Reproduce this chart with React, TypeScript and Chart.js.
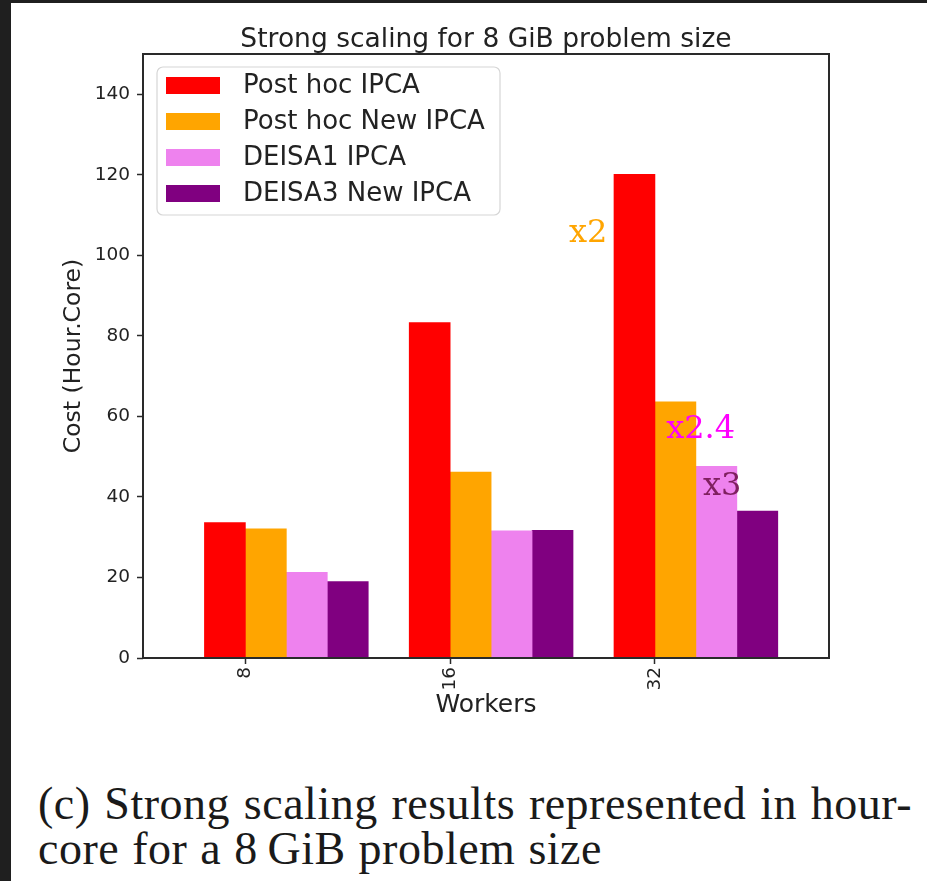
import React, { useEffect, useRef } from "react";
import { Chart, registerables } from "chart.js";

Chart.register(...registerables);

// ---- data ----
const workers = ["8", "16", "32"];
const seriesLabels = ["Post hoc IPCA", "Post hoc New IPCA", "DEISA1 IPCA", "DEISA3 New IPCA"];
const postHocIPCA = [33.6, 83.3, 120.1];
const postHocNewIPCA = [32.1, 46.2, 63.6];
const deisa1IPCA = [21.3, 31.6, 47.6];
const deisa3NewIPCA = [19.0, 31.7, 36.5];
const seriesValues = [postHocIPCA, postHocNewIPCA, deisa1IPCA, deisa3NewIPCA];
const seriesColors = ["#ff0000", "#ffa500", "#ee82ee", "#800080"];
const yTicks = [0, 20, 40, 60, 80, 100, 120, 140];
const speedupLabels = ["x2", "x2.4", "x3"];
const speedupColors = ["#ffa500", "#ff00ff", "#7f1f5f"];
const speedupX = [1.58, 2.055, 2.235];
const speedupY = [103.2, 54.7, 40.5];

const chartTitle = "Strong scaling for 8 GiB problem size";
const captionLine1 = "(c) Strong scaling results represented in hour-";
const captionLine2 = "core for a 8\u2009GiB problem size";

const SANS = "'DejaVu Sans', sans-serif";
const INK = "#222222";

const decorPlugin = {
  id: "decor",
  afterDatasetsDraw(chart: any) {
    const { ctx, scales } = chart;
    ctx.save();
    ctx.font = "32px 'DejaVu Serif', serif";
    ctx.textAlign = "left";
    ctx.textBaseline = "alphabetic";
    speedupLabels.forEach((t, i) => {
      ctx.fillStyle = speedupColors[i];
      ctx.fillText(t, scales.x.getPixelForValue(speedupX[i]), scales.y.getPixelForValue(speedupY[i]));
    });
    ctx.restore();
  },
  afterDraw(chart: any) {
    const { ctx, chartArea: a } = chart;
    ctx.save();
    // frame (all four spines)
    ctx.strokeStyle = "#2a2a2a";
    ctx.lineWidth = 2;
    ctx.strokeRect(a.left, a.top, a.right - a.left, a.bottom - a.top);

    // title
    ctx.fillStyle = INK;
    ctx.font = `26.5px ${SANS}`;
    ctx.textAlign = "center";
    ctx.textBaseline = "alphabetic";
    ctx.fillText(chartTitle, (a.left + a.right) / 2, a.top - 7);

    // legend
    const lx = a.left + 14;
    const ly = a.top + 13;
    const lw = 343;
    const lh = 148;
    const r = 6;
    ctx.beginPath();
    ctx.moveTo(lx + r, ly);
    ctx.arcTo(lx + lw, ly, lx + lw, ly + lh, r);
    ctx.arcTo(lx + lw, ly + lh, lx, ly + lh, r);
    ctx.arcTo(lx, ly + lh, lx, ly, r);
    ctx.arcTo(lx, ly, lx + lw, ly, r);
    ctx.closePath();
    ctx.fillStyle = "rgba(255,255,255,0.85)";
    ctx.fill();
    ctx.strokeStyle = "#d6d6d6";
    ctx.lineWidth = 1.2;
    ctx.stroke();

    ctx.font = `26px ${SANS}`;
    ctx.textAlign = "left";
    ctx.textBaseline = "middle";
    chart.data.datasets.forEach((ds: any, i: number) => {
      const py = ly + 10 + i * 36;
      ctx.fillStyle = ds.backgroundColor;
      ctx.fillRect(lx + 9, py, 54, 17);
      ctx.fillStyle = INK;
      ctx.fillText(ds.label, lx + 86, py + 9);
    });
    ctx.restore();
  },
};

function ChartCanvas() {
  const ref = useRef<HTMLCanvasElement | null>(null);
  useEffect(() => {
    if (!ref.current) return;
    const offsets = [-0.1, 0.1, 0.3, 0.5];
    const datasets = seriesValues.map((vals, si) => ({
      label: seriesLabels[si],
      data: vals.map((v, gi) => ({ x: gi + offsets[si], y: v })),
      backgroundColor: seriesColors[si],
      borderWidth: 0,
      grouped: false,
      barPercentage: 1,
      categoryPercentage: 1,
    }));
    const chart = new Chart(ref.current, {
      type: "bar",
      data: { datasets },
      plugins: [decorPlugin],
      options: {
        animation: false,
        responsive: false,
        devicePixelRatio: 1,
        layout: { padding: { top: 54, right: 98, bottom: 0, left: 0 } },
        plugins: {
          legend: { display: false },
          title: { display: false },
          tooltip: { enabled: false },
        },
        scales: {
          x: {
            type: "linear",
            min: -0.5,
            max: 2.85,
            offset: false,
            afterBuildTicks: (scale: any) => {
              scale.ticks = workers.map((_, i) => ({ value: i }));
            },
            afterFit: (scale: any) => {
              scale.height = 82;
            },
            ticks: {
              autoSkip: false,
              minRotation: 90,
              maxRotation: 90,
              padding: 3,
              color: INK,
              font: { family: SANS, size: 18.5 },
              callback: (value: any) => workers[Math.round(value)] ?? "",
            },
            grid: {
              display: true,
              offset: false,
              drawOnChartArea: false,
              drawTicks: true,
              tickLength: 6,
              tickWidth: 1.5,
              tickColor: "#2a2a2a",
            },
            border: { display: false },
            title: {
              display: true,
              text: "Workers",
              color: INK,
              font: { family: SANS, size: 25 },
              padding: { top: 0, bottom: 20 },
            },
          },
          y: {
            type: "linear",
            min: 0,
            max: 150,
            afterBuildTicks: (scale: any) => {
              scale.ticks = yTicks.map((v) => ({ value: v }));
            },
            afterFit: (scale: any) => {
              scale.width = 143;
            },
            ticks: {
              padding: 7,
              color: INK,
              font: { family: SANS, size: 18.5 },
            },
            grid: {
              display: true,
              drawOnChartArea: false,
              drawTicks: true,
              tickLength: 6,
              tickWidth: 1.5,
              tickColor: "#2a2a2a",
            },
            border: { display: false },
            title: {
              display: true,
              text: "Cost (Hour.Core)",
              color: INK,
              font: { family: SANS, size: 23.5 },
              padding: { top: 60, bottom: 0 },
            },
          },
        },
      } as any,
    });
    return () => chart.destroy();
  }, []);
  return (
    <canvas
      ref={ref}
      width={927}
      height={740}
      style={{ position: "absolute", left: 0, top: 0, width: 927, height: 740 }}
    />
  );
}

export default function App() {
  const captionFont: React.CSSProperties = {
    fontFamily: "'Liberation Serif', 'Times New Roman', serif",
    fontSize: 46,
    lineHeight: "45px",
    color: "#1a1a1a",
    whiteSpace: "nowrap",
    letterSpacing: "0.5px",
  };
  return (
    <div style={{ position: "absolute", left: 0, top: 0, width: 927, height: 881, background: "#1f1f1f", overflow: "hidden" }}>
      <div style={{ position: "absolute", left: 11, top: 3, width: 916, height: 878, background: "#ffffff" }} />
      <ChartCanvas />
      <div style={{ position: "absolute", left: 38, top: 781, width: 874 }}>
        <div style={{ ...captionFont, textAlign: "justify", textAlignLast: "justify" as any }}>{captionLine1}</div>
        <div style={{ ...captionFont, wordSpacing: 1 }}>{captionLine2}</div>
      </div>
    </div>
  );
}
